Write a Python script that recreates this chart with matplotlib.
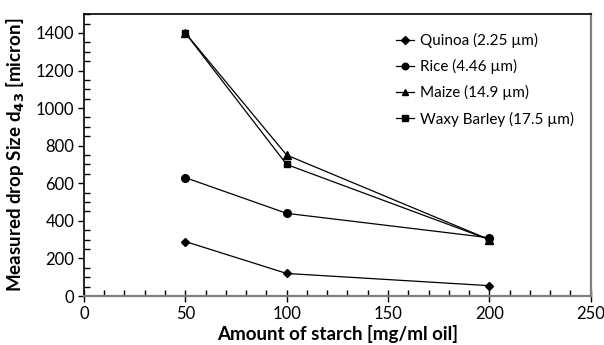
import matplotlib
matplotlib.use("Agg")
import matplotlib.pyplot as plt
from matplotlib.ticker import MultipleLocator

plt.rcParams['font.family'] = ['Lato', 'DejaVu Sans']

x = [50, 100, 200]
quinoa = [290, 120, 55]
rice = [630, 440, 310]
maize = [1400, 750, 300]
waxy_barley = [1400, 700, 300]

labels = ["Quinoa (2.25 µm)", "Rice (4.46 µm)", "Maize (14.9 µm)", "Waxy Barley (17.5 µm)"]

fig = plt.figure(figsize=(6.04, 3.45), dpi=100)
ax = fig.add_axes([0.139, 0.142, 0.839, 0.817])

ax.plot(x, quinoa, color='black', lw=0.9, marker='D', ms=4.5, label=labels[0])
ax.plot(x, rice, color='black', lw=0.9, marker='o', ms=5.5, label=labels[1])
ax.plot(x, maize, color='black', lw=0.9, marker='^', ms=5.5, label=labels[2])
ax.plot(x, waxy_barley, color='black', lw=0.9, marker='s', ms=5, label=labels[3])

ax.set_xlim(0, 250)
ax.set_ylim(0, 1500)
ax.xaxis.set_major_locator(MultipleLocator(50))
ax.xaxis.set_minor_locator(MultipleLocator(10))
ax.yaxis.set_major_locator(MultipleLocator(200))
ax.yaxis.set_minor_locator(MultipleLocator(50))
ax.set_yticks(range(0, 1401, 200))

ax.tick_params(axis='x', which='major', direction='inout', length=8, width=1, labelsize=12, pad=3, color='black')
ax.tick_params(axis='x', which='minor', direction='in', length=4, width=1, color='black')
ax.tick_params(axis='y', which='major', direction='out', length=4, width=1, labelsize=12, pad=3)
ax.tick_params(axis='y', which='minor', direction='in', length=4, width=1)

for s in ['left', 'top']:
    ax.spines[s].set_color('black')
    ax.spines[s].set_linewidth(1.2)
for s in ['bottom', 'right']:
    ax.spines[s].set_color('#7f7f7f')
    ax.spines[s].set_linewidth(1.6)

ax.set_xlabel("Amount of starch [mg/ml oil]", fontsize=13.5, fontweight='bold', labelpad=2)
ax.set_ylabel("Measured drop Size d$_{\\mathbf{43}}$ [micron]", fontsize=13.5, fontweight='bold', labelpad=6)

leg = ax.legend(loc='upper left', frameon=False, fontsize=11, handlelength=1.2,
                handletextpad=0.4, labelspacing=0.72, borderpad=0, borderaxespad=0,
                bbox_to_anchor=(0.615, 0.932), markerscale=0.85)

fig.savefig("out.png", dpi=100)
